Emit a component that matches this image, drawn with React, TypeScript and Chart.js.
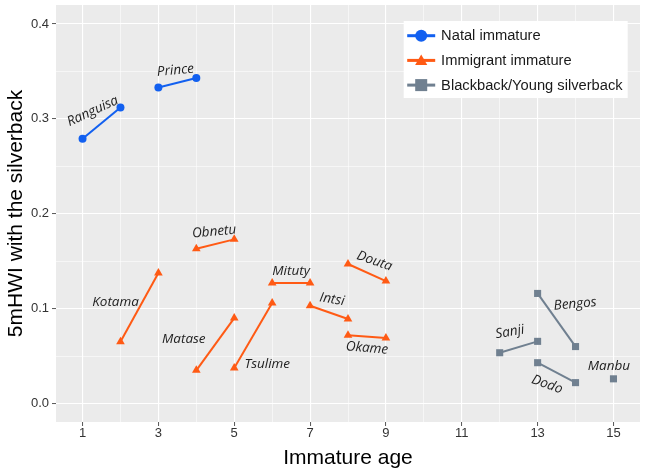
import React, { useEffect, useRef } from 'react';
import { Chart, registerables } from 'chart.js';

Chart.register(...registerables);

// ---- tick labels ----
const xTicks = [1, 3, 5, 7, 9, 11, 13, 15];
const yTicks = [0, 0.1, 0.2, 0.3, 0.4];

// ---- series (one line per individual) ----
const groupLabels = ['Natal immature', 'Immigrant immature', 'Blackback/Young silverback'];

const natalNames = ['Ranguisa', 'Prince'];
const natalAges = [[1, 2], [3, 4]];
const natalValues = [[0.279, 0.312], [0.333, 0.343]];

const immigrantNames = ['Kotama', 'Obnetu', 'Matase', 'Tsulime', 'Mituty', 'Intsi', 'Douta', 'Okame'];
const immigrantAges = [[2, 3], [4, 5], [4, 5], [5, 6], [6, 7], [7, 8], [8, 9], [8, 9]];
const immigrantValues = [
  [0.065, 0.1375],
  [0.163, 0.173],
  [0.035, 0.09],
  [0.0375, 0.106],
  [0.127, 0.127],
  [0.103, 0.089],
  [0.147, 0.129],
  [0.072, 0.069],
];

const blackbackNames = ['Bengos', 'Sanji', 'Dodo', 'Manbu'];
const blackbackAges = [[13, 14], [12, 13], [13, 14], [15]];
const blackbackValues = [[0.116, 0.06], [0.0535, 0.0655], [0.043, 0.022], [0.026]];

// ---- name labels (anchor in data units, rotation in degrees) ----
const labelNames = ['Ranguisa', 'Prince', 'Obnetu', 'Kotama', 'Matase', 'Tsulime', 'Mituty', 'Intsi', 'Douta', 'Okame', 'Bengos', 'Sanji', 'Dodo', 'Manbu'];
const labelX = [1.27, 3.45, 4.47, 1.87, 3.67, 5.87, 6.5, 7.58, 8.7, 8.5, 13.99, 12.27, 13.25, 14.88];
const labelY = [0.308, 0.351, 0.181, 0.1066, 0.0677, 0.0417, 0.139, 0.1097, 0.15, 0.0583, 0.1048, 0.0753, 0.02, 0.039];
const labelAngle = [-25, -5, -5, 0, 0, 0, 0, 9, 19, 5, -5, -10, 20, 0];

const COLORS = ['#1260F0', '#FF5A14', '#708090'];
const SHAPES = ['circle', 'triangle', 'rect'];
const RADII = [4, 5, 5];

const groups = [
  { names: natalNames, ages: natalAges, values: natalValues },
  { names: immigrantNames, ages: immigrantAges, values: immigrantValues },
  { names: blackbackNames, ages: blackbackAges, values: blackbackValues },
];

const FONT = '"Liberation Sans", Arial, sans-serif';

const near = (arr: number[], v: number) => arr.some((t) => Math.abs(t - v) < 1e-9);
const mids = (arr: number[]) => arr.slice(1).map((v, i) => (v + arr[i]) / 2);

const bgPlugin = {
  id: 'panelBg',
  beforeDraw(chart: any) {
    const { ctx, chartArea: a } = chart;
    ctx.save();
    ctx.fillStyle = '#EBEBEB';
    ctx.fillRect(a.left, a.top, a.right - a.left, a.bottom - a.top);
    ctx.restore();
  },
};

const labelPlugin = {
  id: 'nameLabels',
  afterDatasetsDraw(chart: any) {
    const { ctx, scales } = chart;
    ctx.save();
    ctx.font = 'italic 13.5px "Open Sans", sans-serif';
    ctx.fillStyle = '#222222';
    ctx.textAlign = 'center';
    ctx.textBaseline = 'middle';
    labelNames.forEach((n, i) => {
      const px = scales.x.getPixelForValue(labelX[i]);
      const py = scales.y.getPixelForValue(labelY[i]);
      ctx.save();
      ctx.translate(px, py);
      ctx.rotate((labelAngle[i] * Math.PI) / 180);
      ctx.fillText(n, 0, 0);
      ctx.restore();
    });
    ctx.restore();
  },
};

function drawShape(ctx: CanvasRenderingContext2D, shape: string, x: number, y: number, r: number) {
  ctx.beginPath();
  if (shape === 'circle') {
    ctx.arc(x, y, r, 0, Math.PI * 2);
  } else if (shape === 'triangle') {
    ctx.moveTo(x, y - r);
    ctx.lineTo(x + r * Math.sin((2 * Math.PI) / 3), y + r / 2);
    ctx.lineTo(x - r * Math.sin((2 * Math.PI) / 3), y + r / 2);
    ctx.closePath();
  } else {
    const s = r * Math.SQRT1_2;
    ctx.rect(x - s, y - s, 2 * s, 2 * s);
  }
  ctx.fill();
}

const legendPlugin = {
  id: 'insideLegend',
  afterDraw(chart: any) {
    const { ctx, chartArea: a } = chart;
    const w = 224;
    const h = 77;
    const left = a.right - 12.3 - w;
    const top = a.top + 16;
    ctx.save();
    ctx.fillStyle = '#FFFFFF';
    ctx.fillRect(left, top, w, h);
    ctx.font = `14.7px ${FONT}`;
    ctx.textBaseline = 'middle';
    ctx.textAlign = 'left';
    const legR = [6, 7, 8.5];
    groupLabels.forEach((lab, i) => {
      const cy = top + 14.7 + i * 24.7;
      ctx.strokeStyle = COLORS[i];
      ctx.fillStyle = COLORS[i];
      ctx.lineWidth = 3;
      ctx.beginPath();
      ctx.moveTo(left + 3.5, cy);
      ctx.lineTo(left + 31.5, cy);
      ctx.stroke();
      drawShape(ctx, SHAPES[i], left + 17.5, cy + (SHAPES[i] === 'triangle' ? 1 : 0), legR[i]);
      ctx.fillStyle = '#1A1A1A';
      ctx.fillText(lab, left + 37.4, cy + 0.5);
    });
    ctx.restore();
  },
};

export default function App() {
  const ref = useRef<HTMLCanvasElement | null>(null);

  useEffect(() => {
    if (!ref.current) return;
    const datasets: any[] = [];
    groups.forEach((g, gi) => {
      g.names.forEach((name, i) => {
        datasets.push({
          label: name,
          data: g.ages[i].map((a, j) => ({ x: a, y: g.values[i][j] })),
          showLine: true,
          borderColor: COLORS[gi],
          backgroundColor: COLORS[gi],
          borderWidth: 2,
          pointStyle: SHAPES[gi],
          pointRadius: RADII[gi],
          pointBorderWidth: 0,
          pointBackgroundColor: COLORS[gi],
        });
      });
    });

    const xAll = [...xTicks, ...mids(xTicks)].sort((a, b) => a - b);
    const yAll = [...yTicks, ...mids(yTicks)].sort((a, b) => a - b);

    const chart = new Chart(ref.current, {
      type: 'scatter',
      data: { datasets },
      plugins: [bgPlugin, labelPlugin, legendPlugin],
      options: {
        animation: false,
        responsive: true,
        maintainAspectRatio: false,
        layout: { padding: 0 },
        plugins: { legend: { display: false }, tooltip: { enabled: false } },
        scales: {
          x: {
            type: 'linear',
            min: 0.3,
            max: 15.7,
            afterBuildTicks: (s: any) => {
              s.ticks = xAll.map((v) => ({ value: v }));
            },
            afterFit: (s: any) => {
              s.height = 49;
              s.paddingLeft = 0;
              s.paddingRight = 0;
            },
            border: { display: false },
            grid: {
              color: '#FFFFFF',
              lineWidth: (c: any) => (near(xTicks, c.tick?.value) ? 1.1 : 0.55),
              drawTicks: true,
              tickLength: 4,
              tickWidth: 1,
              tickColor: (c: any) => (near(xTicks, c.tick?.value) ? '#555555' : 'rgba(0,0,0,0)'),
            },
            ticks: {
              padding: 0,
              maxRotation: 0,
              autoSkip: false,
              color: '#333333',
              font: { family: FONT, size: 13 },
              callback: (v: any) => (near(xTicks, Number(v)) ? String(v) : ''),
            },
            title: {
              display: true,
              text: 'Immature age',
              color: '#000000',
              font: { family: FONT, size: 21, lineHeight: 1.2 },
              padding: { top: 0, bottom: 0 },
            },
          },
          y: {
            type: 'linear',
            min: -0.0195,
            max: 0.42,
            afterBuildTicks: (s: any) => {
              s.ticks = yAll.map((v) => ({ value: v }));
            },
            afterFit: (s: any) => {
              s.width = 56;
              s.paddingTop = 0;
              s.paddingBottom = 0;
            },
            border: { display: false },
            grid: {
              color: '#FFFFFF',
              lineWidth: (c: any) => (near(yTicks, c.tick?.value) ? 1.1 : 0.55),
              drawTicks: true,
              tickLength: 4,
              tickWidth: 1,
              tickColor: (c: any) => (near(yTicks, c.tick?.value) ? '#555555' : 'rgba(0,0,0,0)'),
            },
            ticks: {
              padding: 3,
              autoSkip: false,
              color: '#333333',
              font: { family: FONT, size: 13 },
              callback: (v: any) => (near(yTicks, Number(v)) ? Number(v).toFixed(1) : ''),
            },
            title: {
              display: true,
              text: '5mHWI with the silverback',
              color: '#000000',
              font: { family: FONT, size: 21, lineHeight: 1.2 },
              padding: { top: 4, bottom: 0 },
            },
          },
        },
      },
    } as any);
    return () => chart.destroy();
  }, []);

  return (
    <div style={{ position: 'fixed', left: 0, top: 0, width: 645, height: 471 }}>
      <canvas ref={ref} style={{ display: 'block' }} />
    </div>
  );
}
